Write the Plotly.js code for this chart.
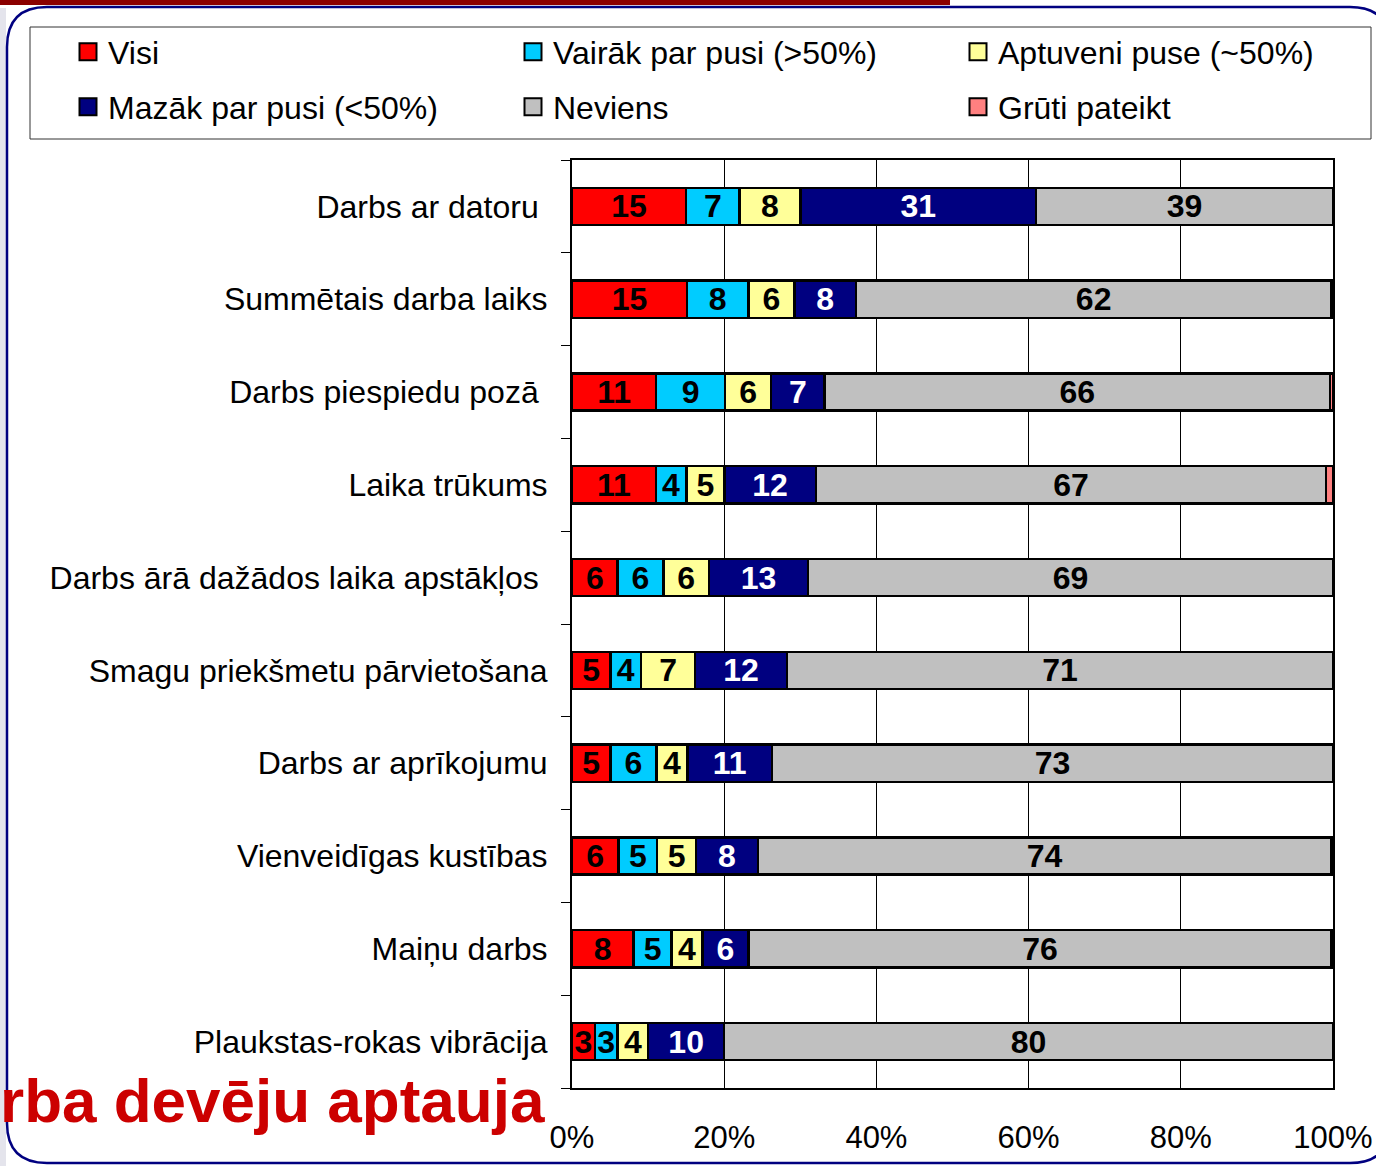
<!DOCTYPE html>
<html>
<head>
<meta charset="utf-8">
<script src="https://cdn.plot.ly/plotly-3.0.1.min.js"></script>
<style>html,body{margin:0;padding:0;background:#fff;}#chart{width:1376px;height:1166px;}</style>
</head>
<body>
<div id="chart"></div>
<script>
const categories = [
  "Darbs ar datoru",
  "Summētais darba laiks",
  "Darbs piespiedu pozā",
  "Laika trūkums",
  "Darbs ārā dažādos laika apstākļos",
  "Smagu priekšmetu pārvietošana",
  "Darbs ar aprīkojumu",
  "Vienveidīgas kustības",
  "Maiņu darbs",
  "Plaukstas-rokas vibrācija"
];
const categoryTickLabels = [
  "Darbs ar datoru\u00a0",
  "Summētais darba laiks",
  "Darbs piespiedu pozā\u00a0",
  "Laika trūkums",
  "Darbs ārā dažādos laika apstākļos\u00a0",
  "Smagu priekšmetu pārvietošana",
  "Darbs ar aprīkojumu",
  "Vienveidīgas kustības",
  "Maiņu darbs",
  "Plaukstas-rokas vibrācija"
];
const seriesNames = ["Visi", "Vairāk par pusi (>50%)", "Aptuveni puse (~50%)", "Mazāk par pusi (<50%)", "Neviens", "Grūti pateikt"];
const visi     = [15, 15, 11, 11, 6, 5, 5, 6, 8, 3];
const vairak   = [7, 8, 9, 4, 6, 4, 6, 5, 5, 3];
const aptuveni = [8, 6, 6, 5, 6, 7, 4, 5, 4, 4];
const mazak    = [31, 8, 7, 12, 13, 12, 11, 8, 6, 10];
const neviens  = [39, 62, 66, 67, 69, 71, 73, 74, 76, 80];
const gruti    = [0, 0.2, 0.4, 0.9, 0, 0, 0, 0.2, 0.2, 0];
const xTickVals = [0, 20, 40, 60, 80, 100];
const xTickLabels = ["0%", "20%", "40%", "60%", "80%", "100%"];
const subtitleText = "rba devēju aptauja";

const colors = ["#FF0000", "#00CCFF", "#FFFF99", "#000080", "#C0C0C0", "#FF8080"];
const textColors = ["#000", "#000", "#000", "#fff", "#000", "#000"];
const allSeries = [visi, vairak, aptuveni, mazak, neviens, gruti];

// pixel helpers for plot geometry
const L = 572, R = 1333, T = 160, B = 1088;
const px = v => (v - L) / (R - L);
const py = v => (B - v) / (B - T);

const labelFont = "Liberation Sans Narrow, Arial Narrow, Liberation Sans, Arial, sans-serif";
const traces = allSeries.map((vals, i) => ({
  type: "bar",
  orientation: "h",
  name: seriesNames[i],
  y: categories,
  x: vals,
  text: i === 5 ? vals.map(() => "") : vals.map(v => String(v)),
  texttemplate: "%{text}",
  textposition: i === 5 ? "none" : "inside",
  insidetextanchor: "middle",
  textangle: 0,
  constraintext: "none",
  insidetextfont: {family: labelFont, size: 32, color: textColors[i], weight: "bold"},
  marker: {color: colors[i], line: {color: "#000", width: 2.5}},
  hoverinfo: "skip",
  legend: i < 3 ? "legend" : "legend2"
}));

const legendCommon = {
  orientation: "h",
  xref: "paper", yref: "paper",
  x: px(68), xanchor: "left",
  yanchor: "middle",
  entrywidth: 400, entrywidthmode: "pixels",
  bgcolor: "rgba(0,0,0,0)", borderwidth: 0,
  font: {family: "Liberation Sans, Arial, sans-serif", size: 32, color: "#000"},
  traceorder: "normal"
};

const framePts = [[47,7],[1350,7],[1390,7],[1390,47],[1390,1123],[1390,1163],[1350,1163],[47,1163],[7,1163],[7,1123],[7,47],[7,7],[47,7]];
const P = p => px(p[0]) + "," + py(p[1]);
const framePath = "M" + P(framePts[0]) + " L" + P(framePts[1]) + " Q" + P(framePts[2]) + " " + P(framePts[3]) +
  " L" + P(framePts[4]) + " Q" + P(framePts[5]) + " " + P(framePts[6]) +
  " L" + P(framePts[7]) + " Q" + P(framePts[8]) + " " + P(framePts[9]) +
  " L" + P(framePts[10]) + " Q" + P(framePts[11]) + " " + P(framePts[12]) + " Z";

const layout = {
  width: 1376, height: 1166,
  margin: {l: L, r: 1376 - R, t: T, b: 1166 - B, autoexpand: false},
  paper_bgcolor: "#fff",
  plot_bgcolor: "#fff",
  barmode: "stack",
  barnorm: "percent",
  bargap: 0.6,
  showlegend: true,
  legend: Object.assign({}, legendCommon, {y: py(52)}),
  legend2: Object.assign({}, legendCommon, {y: py(107)}),
  xaxis: {
    range: [0, 100],
    tickvals: xTickVals,
    ticktext: xTickLabels,
    showgrid: true, gridcolor: "#000", gridwidth: 1,
    showline: true, linecolor: "#000", linewidth: 2, mirror: true,
    ticks: "", zeroline: false,
    ticklabelstandoff: 21,
    tickfont: {family: "Liberation Sans, Arial, sans-serif", size: 31, color: "#000"},
    fixedrange: true
  },
  yaxis: {
    type: "category",
    autorange: "reversed",
    tickmode: "array",
    tickvals: categories,
    ticktext: categoryTickLabels,
    showline: true, linecolor: "#000", linewidth: 2, mirror: true,
    showgrid: false,
    ticks: "outside", tickson: "boundaries", ticklen: 9, tickcolor: "#000", tickwidth: 1,
    ticklabelstandoff: 16,
    tickfont: {family: "Liberation Sans, Arial, sans-serif", size: 32, color: "#000"},
    fixedrange: true
  },
  shapes: [
    {type: "rect", xref: "paper", yref: "paper", x0: px(0), x1: px(950), y0: py(0), y1: py(5), fillcolor: "#8B0000", line: {width: 0}, layer: "below"},
    {type: "rect", xref: "paper", yref: "paper", x0: px(0), x1: px(6), y0: py(8), y1: py(1166), fillcolor: "#E4E4EC", line: {width: 0}, layer: "below"},
    {type: "path", xref: "paper", yref: "paper", path: framePath, line: {color: "#000080", width: 2.5}, layer: "below"},
    {type: "rect", xref: "paper", yref: "paper", x0: px(30), x1: px(1371), y0: py(27), y1: py(139), line: {color: "#333", width: 1}, fillcolor: "rgba(0,0,0,0)", layer: "below"}
  ],
  annotations: [
    {xref: "paper", yref: "paper", x: px(-2), y: py(1100), xanchor: "left", yanchor: "middle",
     text: "<b>" + subtitleText + "</b>", showarrow: false,
     font: {family: "Liberation Sans, Arial, sans-serif", size: 62, color: "#CC0000"}}
  ],
  uniformtext: {mode: "show", minsize: 32}
};

Plotly.newPlot("chart", traces, layout, {displayModeBar: false, staticPlot: true}).then(() => {
  // enlarge legend swatches (both legend rows) to match the reference's bordered squares
  document.querySelectorAll("#chart .legendpoints path").forEach(p => {
    p.setAttribute("d", "M8.5,8.5H-8.5V-8.5H8.5Z");
    p.style.strokeWidth = "2px";
    p.style.stroke = "#000";
  });
});
</script>
</body>
</html>
